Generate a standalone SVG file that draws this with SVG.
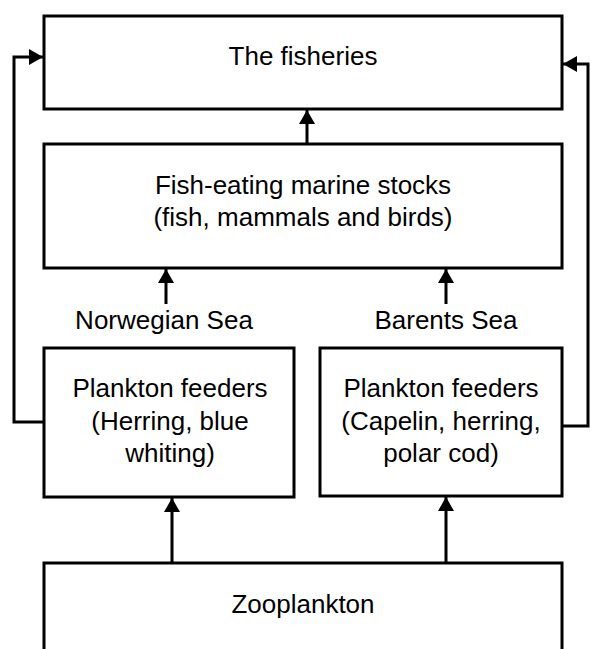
<svg xmlns="http://www.w3.org/2000/svg" width="590" height="649" viewBox="0 0 590 649">
<style>
.box{fill:#fff;stroke:#000;stroke-width:3}
.t{font-family:"Liberation Sans",Arial,sans-serif;font-size:26px;fill:#000;text-anchor:middle}
.c{fill:none;stroke:#000;stroke-width:3}
</style>
<defs>
<marker id="ah" viewBox="0 0 14 16" refX="14" refY="8" markerWidth="14" markerHeight="16" markerUnits="userSpaceOnUse" orient="auto">
<path d="M0,0 L14,8 L0,16 Z" fill="#000"/>
</marker>
</defs>
<rect width="590" height="649" fill="#fff"/>
<g id="fisheries">
<rect class="box" x="44" y="16" width="518" height="93"/>
<text class="t" x="303" y="65">The fisheries</text>
</g>
<g id="stocks">
<rect class="box" x="44" y="144" width="518" height="124"/>
<text class="t" x="303" y="194">Fish-eating marine stocks</text>
<text class="t" x="303" y="226">(fish, mammals and birds)</text>
</g>
<g id="labels">
<text class="t" x="164" y="329">Norwegian Sea</text>
<text class="t" x="446" y="329">Barents Sea</text>
</g>
<g id="norwegian">
<rect class="box" x="44" y="348" width="250" height="149"/>
<text class="t" x="170" y="397">Plankton feeders</text>
<text class="t" x="170" y="430">(Herring, blue</text>
<text class="t" x="170" y="462">whiting)</text>
</g>
<g id="barents">
<rect class="box" x="320" y="348" width="242" height="148"/>
<text class="t" x="441" y="397">Plankton feeders</text>
<text class="t" x="441" y="430">(Capelin, herring,</text>
<text class="t" x="441" y="462">polar cod)</text>
</g>
<g id="zooplankton">
<rect class="box" x="44" y="563" width="518" height="100"/>
<text class="t" x="303" y="613">Zooplankton</text>
</g>
<g id="connectors">
<path class="c" d="M307,144 V110" marker-end="url(#ah)"/>
<path class="c" d="M166,304 V269" marker-end="url(#ah)"/>
<path class="c" d="M446,304 V269" marker-end="url(#ah)"/>
<path class="c" d="M172,563 V498" marker-end="url(#ah)"/>
<path class="c" d="M446,563 V497" marker-end="url(#ah)"/>
<path class="c" d="M44,422 H14 V57 H43" marker-end="url(#ah)"/>
<path class="c" d="M562,426 H588 V64 H563" marker-end="url(#ah)"/>
</g>
</svg>
